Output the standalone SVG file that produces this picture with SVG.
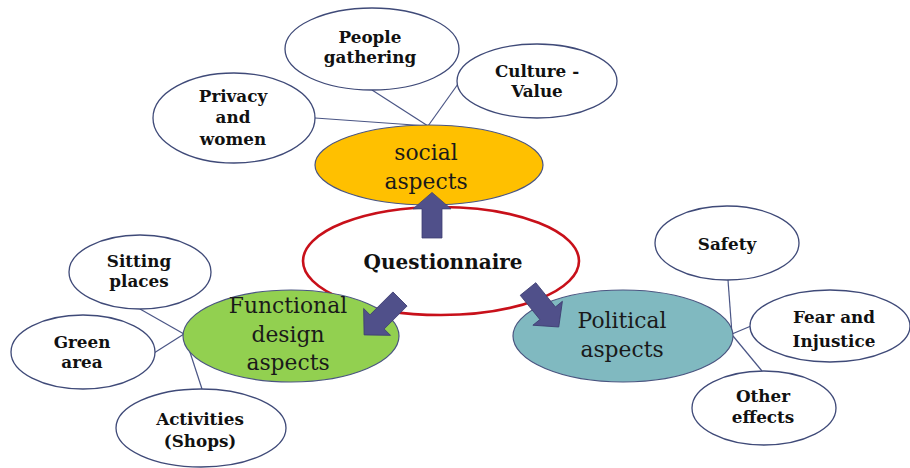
<svg xmlns="http://www.w3.org/2000/svg" width="910" height="468" viewBox="0 0 910 468">
<style>
.bg{fill:#ffffff}
.leaf{fill:#ffffff;stroke:#3f4a78;stroke-width:1.3}
.main{stroke:#4a5580;stroke-width:1.2}
.q{fill:#ffffff;stroke:#c8101a;stroke-width:2.6}
.lbl{font-family:"DejaVu Serif","Liberation Serif",serif;font-weight:bold;font-size:16.8px;fill:#111111;text-anchor:middle}
.big{font-family:"DejaVu Serif","Liberation Serif",serif;font-size:21.8px;fill:#1a1a1a;text-anchor:middle}
.conn line{stroke:#4a5585;stroke-width:1.2}
.arr{fill:#50508a;stroke:#3e3e72;stroke-width:0.8}
</style>
<defs>
<path id="arrowShape" d="M0,-10 L30,-10 L30,-19 L47,0 L30,19 L30,10 L0,10 Z"/>
</defs>
<rect class="bg" x="0" y="0" width="910" height="468"/>

<g id="connectors" class="conn">
<line x1="372" y1="90" x2="428" y2="126"/>
<line x1="315" y1="118" x2="428" y2="126"/>
<line x1="458" y1="84" x2="428" y2="126"/>
<line x1="140" y1="309" x2="184" y2="334"/>
<line x1="154" y1="353" x2="184" y2="334"/>
<line x1="202" y1="389" x2="186" y2="340"/>
<line x1="728" y1="280" x2="732" y2="334"/>
<line x1="751" y1="326" x2="732" y2="334"/>
<line x1="762" y1="371" x2="733" y2="336"/>
</g>

<g id="questionnaire">
<ellipse class="q" cx="441" cy="261" rx="138" ry="54"/>
<text class="lbl" x="443" y="269" style="font-size:20px">Questionnaire</text>
</g>

<g id="social">
<ellipse class="main" cx="429" cy="165" rx="114" ry="40" fill="#ffc000"/>
<text class="big" x="426" y="160">social</text>
<text class="big" x="426" y="189">aspects</text>
</g>

<g id="functional">
<ellipse class="main" cx="291" cy="336" rx="108" ry="46" fill="#92d050"/>
<text class="big" x="288" y="313">Functional</text>
<text class="big" x="288" y="342">design</text>
<text class="big" x="288" y="370">aspects</text>
</g>

<g id="political">
<ellipse class="main" cx="623" cy="336" rx="110" ry="46" fill="#80b9c0"/>
<text class="big" x="622" y="328">Political</text>
<text class="big" x="622" y="357">aspects</text>
</g>

<g id="people-gathering">
<ellipse class="leaf" cx="372" cy="49" rx="87" ry="41"/>
<text class="lbl" x="370" y="43">People</text>
<text class="lbl" x="370" y="63">gathering</text>
</g>

<g id="culture-value">
<ellipse class="leaf" cx="537" cy="81" rx="80" ry="37"/>
<text class="lbl" x="537" y="77">Culture -</text>
<text class="lbl" x="537" y="97">Value</text>
</g>

<g id="privacy-women">
<ellipse class="leaf" cx="234" cy="118" rx="81" ry="45"/>
<text class="lbl" x="233" y="102">Privacy</text>
<text class="lbl" x="233" y="123">and</text>
<text class="lbl" x="233" y="145">women</text>
</g>

<g id="sitting-places">
<ellipse class="leaf" cx="140" cy="272" rx="71" ry="37"/>
<text class="lbl" x="139" y="267">Sitting</text>
<text class="lbl" x="139" y="287">places</text>
</g>

<g id="green-area">
<ellipse class="leaf" cx="83" cy="352" rx="72" ry="37"/>
<text class="lbl" x="82" y="348">Green</text>
<text class="lbl" x="82" y="368">area</text>
</g>

<g id="activities-shops">
<ellipse class="leaf" cx="201" cy="428" rx="85" ry="39"/>
<text class="lbl" x="200" y="425">Activities</text>
<text class="lbl" x="200" y="447">(Shops)</text>
</g>

<g id="safety">
<ellipse class="leaf" cx="727" cy="243" rx="72" ry="37"/>
<text class="lbl" x="727" y="250">Safety</text>
</g>

<g id="fear-injustice">
<ellipse class="leaf" cx="830" cy="326" rx="80" ry="36"/>
<text class="lbl" x="834" y="323">Fear and</text>
<text class="lbl" x="834" y="347">Injustice</text>
</g>

<g id="other-effects">
<ellipse class="leaf" cx="764" cy="408" rx="72" ry="37"/>
<text class="lbl" x="763" y="402">Other</text>
<text class="lbl" x="763" y="423">effects</text>
</g>

<g id="arrows">
<use href="#arrowShape" class="arr" transform="translate(432,238) rotate(-90) scale(0.97,1)"/>
<use href="#arrowShape" class="arr" transform="translate(400,299) rotate(135) scale(1.08,1)"/>
<use href="#arrowShape" class="arr" transform="translate(528,289) rotate(51) scale(1.04,1)"/>
</g>
</svg>
